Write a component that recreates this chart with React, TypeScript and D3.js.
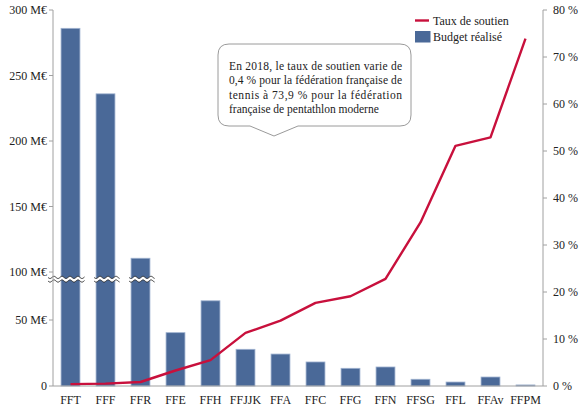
import React from "react";
import * as d3 from "d3";

const categories = ["FFT","FFF","FFR","FFE","FFH","FFJJK","FFA","FFC","FFG","FFN","FFSG","FFL","FFAv","FFPM"];
const budget = [286, 236, 110.5, 40.4, 70, 27.8, 24.2, 18.2, 13.4, 14.4, 5.1, 3.0, 6.8, 0.8];
const taux = [0.4, 0.5, 0.85, 3.3, 5.5, 11.3, 13.9, 17.7, 19.1, 22.8, 34.8, 51.1, 52.9, 73.9];
const leftTicks = [0, 50, 100, 150, 200, 250, 300];
const rightTicks = [0, 10, 20, 30, 40, 50, 60, 70, 80];
const calloutLines = [
  "En 2018, le taux de soutien varie de",
  "0,4 % pour la fédération française de",
  "tennis à 73,9 % pour la fédération",
  "française de pentathlon moderne",
];
const legendLabels = ["Taux de soutien", "Budget réalisé"];
const breakValue = 92.5;
const brokenCount = 3;

const W = 583, H = 410;
const FONT = "'Liberation Serif', 'Times New Roman', serif";
const LINE_C = "#c8103c";
const BAR_C = "#4a6998";
const AXIS_C = "#a0a0a0";

export default function App() {
  const x0 = 53, x1 = 543, yTop = 10, yBot = 386;
  const x = d3.scaleBand<string>().domain(categories).range([x0, x1]).paddingInner(0.46).paddingOuter(0.23);
  const yL = d3.scaleLinear().domain([0, 50, 100, 300]).range([yBot, 320, 272, yTop]);
  const yR = d3.scaleLinear().domain([0, 80]).range([yBot, yTop]);
  const cx = (c: string) => (x(c) as number) + x.bandwidth() / 2;

  const line = d3.line<number>().x((_, i) => cx(categories[i])).y(d => yR(d));

  const wave = (xa: number, xb: number, yc: number) => {
    const pts: [number, number][] = [];
    for (let xx = xa; xx <= xb + 0.01; xx += 0.5) {
      pts.push([xx, yc + 1.1 * Math.sin(((xx - xa) / 8) * 2 * Math.PI)]);
    }
    return pts;
  };
  const yb = yL(breakValue);
  const breaks = categories.slice(0, brokenCount).map((c, i) => {
    const bx = x(c) as number;
    const xa = i === 0 ? x0 - 5 : bx - 2;
    const xb = bx + x.bandwidth() + 5;
    const top = wave(xa, xb, yb - 1.8);
    const bot = wave(xa, xb, yb + 1.8);
    const lg = d3.line();
    const band = lg([...top, ...bot.slice().reverse()]) + "Z";
    return { band, top: lg(top), bot: lg(bot) };
  });

  // callout
  const cb = { l: 218, r: 411, t: 44, b: 126, rr: 11, px: 274, pw: 24, ph: 10 };
  const calloutPath = [
    `M${cb.l + cb.rr},${cb.t}`,
    `H${cb.r - cb.rr}`,
    `Q${cb.r},${cb.t} ${cb.r},${cb.t + cb.rr}`,
    `V${cb.b - cb.rr}`,
    `Q${cb.r},${cb.b} ${cb.r - cb.rr},${cb.b}`,
    `H${cb.px + cb.pw}`,
    `L${cb.px},${cb.b + cb.ph}`,
    `L${cb.px - cb.pw},${cb.b}`,
    `H${cb.l + cb.rr}`,
    `Q${cb.l},${cb.b} ${cb.l},${cb.b - cb.rr}`,
    `V${cb.t + cb.rr}`,
    `Q${cb.l},${cb.t} ${cb.l + cb.rr},${cb.t}`,
    "Z",
  ].join(" ");

  return (
    <svg width={W} height={H} style={{ position: "absolute", left: 0, top: 0, background: "#fff" }} fontFamily={FONT}>
      {/* bars */}
      {categories.map((c, i) => (
        <rect key={c} x={x(c)} y={yL(budget[i])} width={x.bandwidth()} height={yBot - yL(budget[i])}
          fill={BAR_C} stroke="#9fb2d0" strokeWidth={0.8} />
      ))}
      {/* break marks */}
      {breaks.map((b, i) => (
        <g key={i}>
          <path d={b.band} fill="#fff" stroke="none" />
          <path d={b.top as string} fill="none" stroke="#222" strokeWidth={0.9} />
          <path d={b.bot as string} fill="none" stroke="#222" strokeWidth={0.9} />
        </g>
      ))}
      {/* axes */}
      <line x1={x0} x2={x0} y1={yTop} y2={yBot} stroke={AXIS_C} />
      <line x1={x1} x2={x1} y1={yTop} y2={yBot} stroke={AXIS_C} />
      <line x1={x0} x2={x1} y1={yBot} y2={yBot} stroke={AXIS_C} />
      {leftTicks.map(t => (
        <g key={t}>
          <line x1={x0 - 4} x2={x0} y1={yL(t)} y2={yL(t)} stroke={AXIS_C} />
          <text x={x0 - 6} y={yL(t)} dy="0.35em" textAnchor="end" fontSize={12} fill="#222">
            {t === 0 ? "0" : `${t} M€`}
          </text>
        </g>
      ))}
      {rightTicks.map(t => (
        <g key={t}>
          <line x1={x1} x2={x1 + 4} y1={yR(t)} y2={yR(t)} stroke={AXIS_C} />
          <text x={x1 + 10} y={yR(t)} dy="0.35em" textAnchor="start" fontSize={12} fill="#222">
            {`${t} %`}
          </text>
        </g>
      ))}
      {categories.map(c => (
        <text key={c} x={cx(c)} y={yBot + 14} dy="0.35em" textAnchor="middle" fontSize={12} fill="#222">{c}</text>
      ))}
      {/* line */}
      <path d={line(taux) as string} fill="none" stroke={LINE_C} strokeWidth={2.4} strokeLinejoin="round" />
      {/* legend */}
      <line x1={415} x2={429} y1={20.5} y2={20.5} stroke={LINE_C} strokeWidth={2.4} />
      <text x={433} y={20.5} dy="0.35em" fontSize={12} fill="#222">{legendLabels[0]}</text>
      <rect x={415} y={31} width={15.5} height={11.5} fill={BAR_C} />
      <text x={433} y={37} dy="0.35em" fontSize={12} fill="#222">{legendLabels[1]}</text>
      {/* callout */}
      <path d={calloutPath} fill="#fff" stroke="#9a9a9a" strokeWidth={1} />
      {calloutLines.map((l, i) => (
        <text key={i} x={229} y={66 + i * 14.3} dy="0.35em" fontSize={11.5} fill="#222"
          {...(i < calloutLines.length - 1 ? { textLength: 173, lengthAdjust: "spacing" } : {})}>
          {l}
        </text>
      ))}
    </svg>
  );
}
